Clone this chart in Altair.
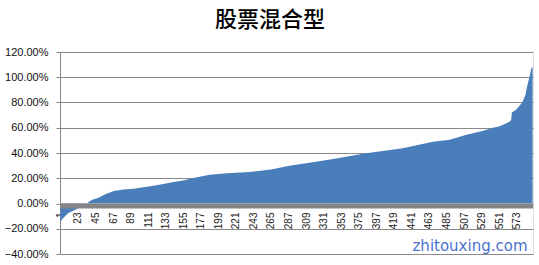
import altair as alt
import pandas as pd

title_text = "股票混合型"
watermark = "zhitouxing.com"

# rank of fund (sorted ascending) and its return
ranks = [1, 5, 11, 20, 30, 35, 41, 48, 58, 68, 80, 93, 105, 118, 130, 143, 155,
         166, 188, 210, 238, 265, 288, 315, 345, 380, 405, 430, 468, 489, 510,
         530, 543, 551, 558, 564, 566, 567, 572, 576, 580, 584, 586, 589, 591,
         592, 593]
returns = [-0.145, -0.11, -0.075, -0.05, -0.01, 0.005, 0.029, 0.044, 0.075, 0.10,
           0.11, 0.116, 0.128, 0.14, 0.155, 0.17, 0.182, 0.20, 0.227, 0.24, 0.25,
           0.27, 0.30, 0.325, 0.354, 0.395, 0.415, 0.438, 0.49, 0.505, 0.544,
           0.575, 0.60, 0.61, 0.63, 0.648, 0.66, 0.72, 0.74, 0.77, 0.80, 0.86,
           0.925, 1.00, 1.06, 1.08, 1.08]

x_ticks = list(range(1, 574, 22))
y_ticks = [-0.4, -0.2, 0.0, 0.2, 0.4, 0.6, 0.8, 1.0, 1.2]
n_funds = 593

df = pd.DataFrame({"rank": ranks, "ret": returns})

x_enc = alt.X("rank:Q",
              scale=alt.Scale(domain=[0.5, n_funds + 0.5], nice=False, zero=False),
              axis=alt.Axis(values=x_ticks, labelAngle=270, grid=False, domain=False,
                            ticks=False, labelPadding=8, offset=-50, title=None,
                            labelFont="Liberation Sans", labelFontSize=10,
                            labelColor="#222222", labelOverlap=False,
                            labelFlush=False))
y_enc = alt.Y("ret:Q",
              scale=alt.Scale(domain=[-0.4, 1.2], nice=False),
              axis=alt.Axis(values=y_ticks, format=".2%", title=None,
                            grid=True, gridColor="#888888", gridWidth=1,
                            domainColor="#888888", tickColor="#888888",
                            tickSize=4, labelPadding=8, labelOverlap=False,
                            labelFont="Liberation Sans", labelFontSize=11,
                            labelColor="#111111"))

area = alt.Chart(df).mark_area(color="#4A7EBB", interpolate="linear").encode(
    x=x_enc, y=y_enc, y2=alt.datum(0)
)

zero_line = alt.Chart(pd.DataFrame({"ret": [0.0]})).mark_rule(
    color="#858585", strokeWidth=5, yOffset=2.5
).encode(y=y_enc)

wm = alt.Chart(pd.DataFrame({"t": [watermark]})).mark_text(
    font="DejaVu Sans", fontSize=15, color="#4B72CF", align="center",
    baseline="alphabetic"
).encode(text="t:N", x=alt.value(410), y=alt.value(199))

chart = alt.layer(area, zero_line, wm).properties(
    width=473, height=202,
    title=alt.TitleParams(title_text, font="Noto Sans CJK SC", fontSize=22,
                          fontWeight=500, color="#000000", anchor="middle",
                          frame="bounds", offset=14, baseline="bottom", dy=22),
    padding={"left": 60, "top": 52, "right": 6, "bottom": 11},
    autosize=alt.AutoSizeParams(type="none")
).configure_view(stroke=None).configure(background="white")

chart.save("out.html", embed_options={"renderer": "svg", "actions": False})
